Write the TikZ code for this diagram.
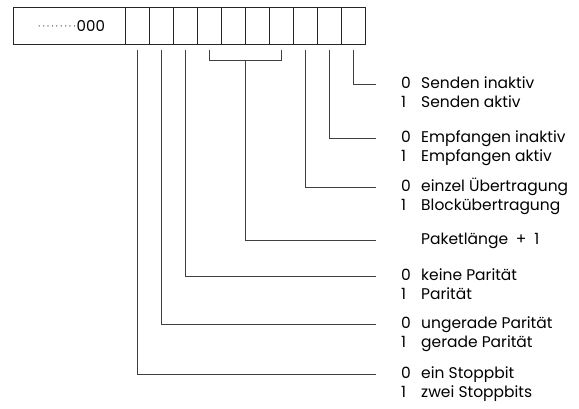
\documentclass[tikz,border=0pt]{standalone}
\usepackage{fontspec}
\setmainfont{Poppins}
\usetikzlibrary{positioning}
\tikzstyle{cell} = [draw=black!85, line width=0.8pt, rectangle,
    minimum width=24pt, minimum height=37pt, inner sep=0pt, outer sep=0pt]
\tikzstyle{wire} = [draw=black!75, line width=0.8pt]
\tikzstyle{opt} = [anchor=west, inner sep=0pt, font=\fontsize{15.5}{18}\selectfont,
    text height=11pt, text depth=3pt]
\newcommand{\bitval}[1]{\makebox[20pt][l]{#1}}
\newcommand{\leaddot}{\makebox[4.4pt]{\raisebox{1.5pt}{\fontsize{9}{9}\selectfont\textperiodcentered}}}

\begin{document}
\begin{tikzpicture}[x=1pt, y=-1pt]
\useasboundingbox (0,0) rectangle (579,408);
% register
\node [cell, minimum width=112pt, anchor=north west, font=\fontsize{15}{18}\selectfont] (rest) at (13,7)
    {\makebox[112pt][r]{\leaddot\leaddot\leaddot\leaddot\leaddot\leaddot\leaddot\leaddot\leaddot 000\hspace{20pt}}};
\foreach \i in {1,...,10}
    \node [cell] (b\i) at ({113+24*\i},25.5) {};

% meanings
\node [opt] (send0) at (401,84) {\bitval{0}Senden inaktiv};
\node [opt] (send1) at ([yshift=-19.5pt]send0.west) {\bitval{1}Senden aktiv};
\node [opt] (recv0) at (401,138) {\bitval{0}Empfangen inaktiv};
\node [opt] (recv1) at ([yshift=-19.5pt]recv0.west) {\bitval{1}Empfangen aktiv};
\node [opt] (block0) at (401,187) {\bitval{0}einzel Übertragung};
\node [opt] (block1) at ([yshift=-19.5pt]block0.west) {\bitval{1}Blockübertragung};
\node [opt] (len) at (401,240) {\bitval{}Paketlänge\enspace+\enspace1};
\node [opt] (par0) at (401,276) {\bitval{0}keine Parität};
\node [opt] (par1) at ([yshift=-19.5pt]par0.west) {\bitval{1}Parität};
\node [opt] (even0) at (401,324) {\bitval{0}ungerade Parität};
\node [opt] (even1) at ([yshift=-19.5pt]even0.west) {\bitval{1}gerade Parität};
\node [opt] (stop0) at (401,374) {\bitval{0}ein Stoppbit};
\node [opt] (stop1) at ([yshift=-19.5pt]stop0.west) {\bitval{1}zwei Stoppbits};

% connectors
\draw [wire] ([yshift=-6pt]b10.south) |- ([xshift=-25pt]send0.west);
\draw [wire] ([yshift=-6pt]b9.south) |- ([xshift=-25pt]recv0.west);
\draw [wire] ([yshift=-6pt]b8.south) |- ([xshift=-25pt]block0.west);
\draw [wire] ([yshift=-6pt]b4.south) |- ([yshift=-16.5pt]b5.south east) -| ([yshift=-6pt]b7.south);
\draw [wire] ([yshift=-16.5pt]b5.south east) |- ([xshift=-25pt]len.west);
\draw [wire] ([yshift=-6pt]b3.south) |- ([xshift=-25pt]par0.west);
\draw [wire] ([yshift=-6pt]b2.south) |- ([xshift=-25pt]even0.west);
\draw [wire] ([yshift=-6pt]b1.south) |- ([xshift=-25pt]stop0.west);
\end{tikzpicture}
\end{document}
